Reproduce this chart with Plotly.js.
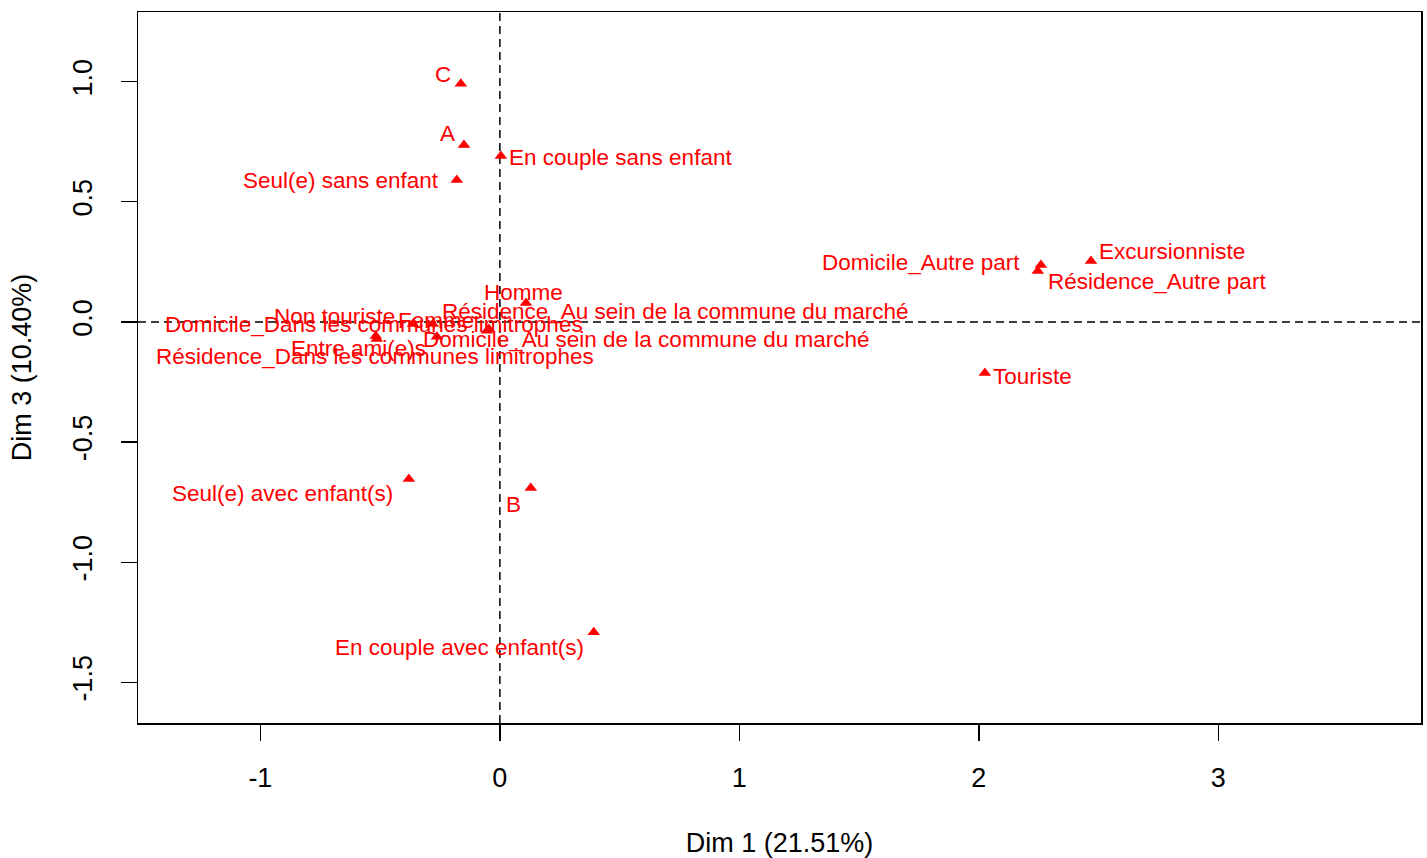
<!DOCTYPE html>
<html>
<head>
<meta charset="utf-8">
<script src="https://cdn.plot.ly/plotly-3.0.1.min.js"></script>
<style>html,body{margin:0;padding:0;background:#fff;}#chart{width:1427px;height:858px;}</style>
</head>
<body>
<div id="chart"></div>
<script>
// Category labels
var categories = [
  "C", "A", "En couple sans enfant", "Seul(e) sans enfant",
  "Excursionniste", "Domicile_Autre part", "Résidence_Autre part",
  "Homme", "Touriste", "Seul(e) avec enfant(s)", "B", "En couple avec enfant(s)",
  "Domicile_Dans les communes limitrophes", "Résidence_Dans les communes limitrophes",
  "Non touriste", "Femme", "Entre ami(e)s",
  "Domicile_Au sein de la commune du marché", "Résidence_Au sein de la commune du marché"
];
// Dim 1 coordinates
var dim1 = [
  -0.163, -0.150, 0.004, -0.180,
  2.468, 2.259, 2.246,
  0.109, 2.025, -0.380, 0.129, 0.392,
  -0.518, -0.514,
  -0.363, -0.280, -0.263,
  -0.054, -0.046
];
// Dim 3 coordinates
var dim3 = [
  0.991, 0.737, 0.691, 0.591,
  0.254, 0.237, 0.212,
  0.079, -0.212, -0.654, -0.691, -1.291,
  -0.058, -0.071,
  -0.008, -0.008, -0.062,
  -0.037, -0.029
];
var xTickVals = [-1, 0, 1, 2, 3];
var xTickText = ["-1", "0", "1", "2", "3"];
var yTickVals = [-1.5, -1, -0.5, 0, 0.5, 1];
var yTickText = ["-1.5", "-1.0", "-0.5", "0.0", "0.5", "1.0"];

// label placement (styling): anchor, x pixel shift, y pixel shift
var labelStyle = [
  ["right", -8, 9], ["right", -7, 11], ["left", 6, -2], ["right", -16, -1],
  ["left", 6, 9], ["right", -19, 3], ["left", 8, -10],
  ["center", -2, 10], ["left", 6, -4], ["right", -14, -14], ["right", -8, -16], ["right", -8, -15],
  ["center", -1.5, 11], ["center", -2, -17],
  ["right", -16, 7], ["center", 3, 3], ["right", -9, -12],
  ["left", -66, -9], ["left", -49, 17]
];

var FONT = "Liberation Sans, Arial, sans-serif";

var trace = {
  type: "scatter",
  mode: "markers",
  x: dim1,
  y: dim3,
  marker: {symbol: "triangle-up", color: "#FF0000", size: 11},
  hoverinfo: "text",
  text: categories,
  showlegend: false
};

var annotations = categories.map(function (c, i) {
  return {
    x: dim1[i], y: dim3[i], xref: "x", yref: "y",
    text: c, showarrow: false,
    xanchor: labelStyle[i][0], yanchor: "middle",
    xshift: labelStyle[i][1], yshift: labelStyle[i][2],
    font: {family: FONT, size: 22.5, color: "#FF0000"}
  };
});

var layout = {
  width: 1427, height: 858,
  margin: {l: 138, r: 6, t: 12, b: 135},
  paper_bgcolor: "#fff", plot_bgcolor: "#fff",
  font: {family: FONT, color: "#000"},
  xaxis: {
    range: [-1.511, 3.846],
    tickvals: xTickVals, ticktext: xTickText,
    ticks: "outside", ticklen: 16, tickwidth: 1.3, tickcolor: "#000",
    ticklabelstandoff: 14,
    tickfont: {family: FONT, size: 27, color: "#000"},
    showgrid: false, zeroline: false,
    showline: true, mirror: true, linecolor: "#000", linewidth: 1.5,
    title: {text: "Dim 1 (21.51%)", font: {family: FONT, size: 27, color: "#000"}, standoff: 44}
  },
  yaxis: {
    range: [-1.669, 1.29],
    tickvals: yTickVals, ticktext: yTickText, tickangle: -90,
    ticks: "outside", ticklen: 16, tickwidth: 1.3, tickcolor: "#000",
    ticklabelstandoff: 18,
    tickfont: {family: FONT, size: 27, color: "#000"},
    showgrid: false, zeroline: false,
    showline: true, mirror: true, linecolor: "#000", linewidth: 1.5,
    title: {text: "Dim 3 (10.40%)", font: {family: FONT, size: 27, color: "#000"}, standoff: 28}
  },
  shapes: [
    {type: "line", xref: "x", yref: "paper", x0: 0, x1: 0, y0: 0, y1: 1,
     line: {color: "#000", width: 1.5, dash: "8px,5px"}, layer: "below"},
    {type: "line", xref: "paper", yref: "y", x0: 0, x1: 1, y0: 0, y1: 0,
     line: {color: "#000", width: 1.5, dash: "8px,5px"}, layer: "below"}
  ],
  annotations: annotations
};

Plotly.newPlot("chart", [trace], layout, {displayModeBar: false, staticPlot: true});
</script>
</body>
</html>
